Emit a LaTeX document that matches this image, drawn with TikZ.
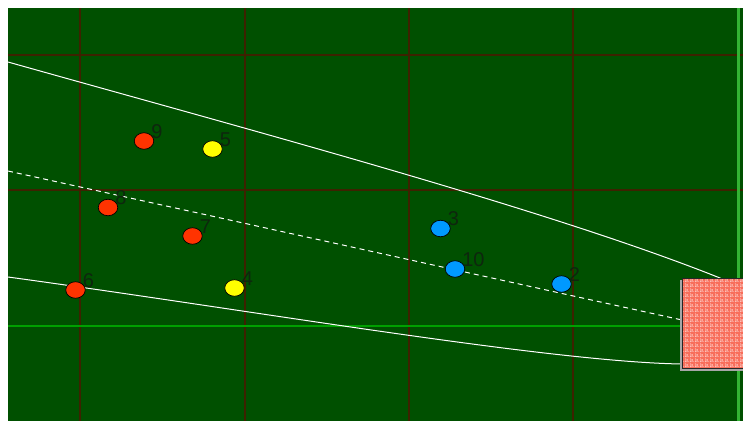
\documentclass[tikz,border=0pt]{standalone}
\usepackage{fontspec}
\setsansfont{Liberation Sans}
\definecolor{pitchgreen}{HTML}{005000}
\definecolor{gridbrown}{HTML}{3D2200}
\definecolor{linegreen}{HTML}{00A000}
\definecolor{homered}{HTML}{FF3300}
\definecolor{visityellow}{HTML}{FFFF00}
\definecolor{awayblue}{HTML}{0099FF}
\definecolor{goalred}{HTML}{FF6A55}
\definecolor{numdark}{HTML}{0E260E}
\usetikzlibrary{shapes.geometric,patterns}
\pgfdeclarepatternformonly{goalnet}{\pgfqpoint{0pt}{0pt}}{\pgfqpoint{5pt}{5pt}}{\pgfqpoint{5pt}{5pt}}{
  \pgfsetlinewidth{0.8pt}
  \pgfpathmoveto{\pgfqpoint{0pt}{0pt}}\pgfpathlineto{\pgfqpoint{5pt}{0pt}}
  \pgfpathmoveto{\pgfqpoint{0pt}{0pt}}\pgfpathlineto{\pgfqpoint{0pt}{5pt}}
  \pgfusepath{stroke}
  \pgfpathcircle{\pgfqpoint{2.5pt}{2.5pt}}{0.9pt}
  \pgfusepath{fill}
}

\begin{document}
\begin{tikzpicture}[
  x=1pt, y=-1pt,
  gridline/.style={gridbrown, line width=2.5pt},
  pitchline/.style={linegreen, line width=2pt},
  runline/.style={white, line width=1pt},
  plr/.style={ellipse, draw=black, line width=0.7pt, minimum width=19.5pt, minimum height=16.5pt, inner sep=0pt},
  homep/.style={plr, fill=homered},
  yelp/.style={plr, fill=visityellow},
  bluep/.style={plr, fill=awayblue},
  lbl/.style={font=\sffamily\fontsize{20}{20}\selectfont, text=numdark, inner sep=0pt, anchor=base west, xshift=-3pt, yshift=3pt},
]
  \useasboundingbox (0,0) rectangle (743,421);
  \fill[pitchgreen] (8,8) rectangle (743,421);

  \foreach \gx in {80,245,409,573}
    \draw[gridline] (\gx,8) -- (\gx,421);
  \foreach \gy in {55,190}
    \draw[gridline] (8,\gy) -- (743,\gy);

  \draw[pitchline] (8,325.5) -- (682,325.5);
  \draw[linegreen!80!white, line width=3pt] (738,8) -- (738,421);

  \draw[runline] (8,62) .. controls (250,130) and (550,210) .. (720,278) .. controls (730,282) and (738,288) .. (743,293);
  \draw[runline, dash pattern=on 5pt off 4pt] (8,171) -- (682,320);
  \draw[runline] (8,277) .. controls (250,310) and (550,362) .. (682,364) .. controls (710,364) and (730,356) .. (743,348);

  \fill[gray!70] (680,280) rectangle (745,371);
  \fill[goalred, fill opacity=0.92] (682,278) rectangle (745,368);
  \fill[pattern=goalnet, pattern color=white!90!goalred] (682,278) rectangle (745,368);
  \draw[black!85, line width=1pt] (745,278) -- (682,278) -- (682,368) -- (745,368);

  \node[homep, label={[lbl]right:9}] (p9) at (144,141) {};
  \node[yelp, label={[lbl]right:5}] (p5) at (212.5,149) {};
  \node[homep, label={[lbl]right:8}] (p8) at (108,207.5) {};
  \node[homep, label={[lbl]right:7}] (p7) at (192.5,236) {};
  \node[homep, label={[lbl]right:6}] (p6) at (75.5,290) {};
  \node[yelp, label={[lbl]right:4}] (p4) at (234.5,288) {};
  \node[bluep, label={[lbl]right:3}] (p3) at (440.5,228.5) {};
  \node[bluep, label={[lbl]right:10}] (p10) at (455,269) {};
  \node[bluep, label={[lbl]right:2}] (p2) at (561.5,284) {};
\end{tikzpicture}
\end{document}
